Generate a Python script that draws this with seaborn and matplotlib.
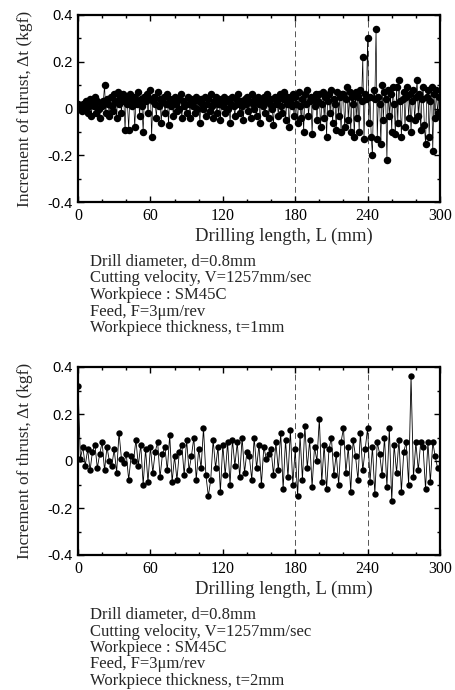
import numpy as np
import pandas as pd
import matplotlib
matplotlib.use("Agg")
import matplotlib.pyplot as plt
import seaborn as sns
from matplotlib.ticker import MultipleLocator

# ---------------- data ----------------
length_top = list(range(0, 300))
thrust_top = [
    0.02, 0.00, 0.01, -0.01, 0.02, 0.01, 0.00, 0.03, -0.02, 0.01,
    0.04, -0.03, 0.02, 0.01, 0.05, -0.02, 0.03, 0.00, -0.04, 0.02,
    0.01, 0.03, 0.10, -0.02, 0.04, 0.02, -0.03, 0.05, 0.01, -0.01,
    0.06, 0.03, -0.04, 0.07, 0.02, 0.05, -0.02, 0.06, 0.03, -0.09,
    0.05, 0.02, -0.09, 0.06, 0.04, 0.01, 0.05, -0.08, 0.03, 0.02,
    0.07, -0.03, 0.04, 0.01, -0.10, 0.05, 0.03, 0.06, -0.02, 0.04,
    0.08, -0.12, 0.03, 0.05, 0.02, -0.04, 0.07, 0.01, 0.04, -0.06,
    0.03, 0.05, -0.02, 0.02, 0.06, -0.07, 0.04, 0.01, 0.03, -0.03,
    0.05, 0.02, -0.01, 0.04, 0.00, 0.06, -0.04, 0.03, 0.01, 0.02,
    -0.02, 0.05, 0.02, -0.04, 0.04, 0.01, 0.03, -0.02, 0.05, 0.00,
    0.03, -0.06, 0.04, 0.02, 0.00, 0.05, -0.03, 0.02, 0.04, -0.01,
    0.06, 0.01, -0.04, 0.03, 0.05, -0.02, 0.02, 0.04, -0.05, 0.03,
    0.01, 0.05, -0.02, 0.03, 0.00, 0.04, -0.06, 0.02, 0.05, 0.01,
    -0.03, 0.04, 0.02, 0.06, -0.02, 0.03, 0.01, -0.05, 0.04, 0.02,
    0.05, -0.01, 0.03, -0.04, 0.06, 0.02, 0.00, 0.04, -0.03, 0.05,
    0.02, -0.06, 0.04, 0.01, 0.05, -0.02, 0.03, 0.06, -0.04, 0.02,
    0.04, 0.00, -0.07, 0.05, 0.02, 0.03, -0.03, 0.06, 0.01, -0.02,
    0.04, 0.07, -0.05, 0.02, 0.05, -0.08, 0.03, 0.01, 0.06, -0.03,
    0.05, 0.02, -0.06, 0.07, 0.01, -0.04, 0.04, -0.10, 0.06, 0.02,
    0.08, -0.03, 0.03, 0.05, -0.11, 0.04, 0.01, 0.06, -0.05, 0.03,
    0.06, -0.08, 0.02, 0.07, -0.04, 0.05, -0.12, 0.03, 0.06, -0.02,
    0.08, -0.06, 0.04, 0.02, -0.09, 0.07, -0.03, 0.05, -0.10, 0.06,
    0.06, -0.08, 0.04, 0.09, -0.05, 0.07, -0.10, 0.05, 0.02, -0.12,
    0.07, -0.04, 0.05, -0.10, 0.08, 0.03, 0.22, -0.13, 0.06, 0.04,
    0.30, -0.06, 0.05, -0.12, -0.20, 0.08, 0.04, 0.34, -0.13, 0.05,
    0.02, -0.15, 0.10, -0.05, 0.07, 0.04, -0.22, 0.08, -0.03, 0.06,
    -0.10, 0.09, 0.02, -0.11, 0.09, -0.06, 0.12, 0.03, -0.12, 0.04,
    0.07, -0.08, 0.05, 0.09, -0.04, 0.06, -0.10, 0.03, 0.08, -0.05,
    0.05, 0.12, -0.03, 0.06, -0.09, 0.04, 0.09, -0.07, -0.15, 0.05,
    0.08, -0.12, 0.03, 0.09, -0.18, 0.06, -0.04, 0.08, -0.02, 0.05,
]

length_bottom = list(range(0, 300, 2))
thrust_bottom = [
    0.32, 0.01, 0.06, -0.02, 0.05, -0.04, 0.04, 0.07, -0.03, 0.03,
    0.08, -0.04, 0.06, 0.00, -0.02, 0.05, -0.05, 0.12, 0.01, -0.01,
    0.03, -0.08, 0.02, 0.00, 0.09, -0.02, 0.07, -0.10, 0.05, -0.09,
    0.06, -0.05, 0.04, 0.08, -0.07, 0.03, 0.06, -0.04, 0.11, -0.09,
    0.02, -0.08, 0.04, 0.07, -0.06, 0.09, -0.04, 0.02, 0.10, -0.08,
    0.05, -0.03, 0.14, -0.06, -0.15, -0.08, 0.09, -0.03, 0.06, -0.13,
    0.07, -0.06, 0.08, -0.10, 0.09, -0.02, 0.08, -0.07, 0.10, -0.05,
    0.04, 0.02, -0.08, 0.10, -0.03, 0.07, -0.10, 0.06, 0.01, 0.03,
    0.05, -0.06, 0.08, -0.04, 0.12, -0.12, 0.09, -0.07, 0.13, -0.10,
    0.05, -0.15, 0.11, -0.08, 0.15, -0.03, 0.09, -0.11, 0.06, 0.00,
    0.18, -0.09, 0.07, -0.12, 0.05, 0.10, -0.06, 0.03, -0.10, 0.08,
    0.14, -0.05, 0.06, -0.13, 0.09, 0.02, -0.08, 0.12, -0.04, 0.05,
    0.14, -0.09, 0.06, -0.14, 0.08, 0.03, -0.06, 0.10, -0.11, 0.14,
    -0.17, 0.07, -0.05, 0.09, -0.13, 0.04, 0.08, -0.10, 0.36, -0.07,
    0.08, -0.04, 0.08, 0.06, -0.12, 0.08, -0.09, 0.08, 0.02, -0.03,
]

x_ticks = [0, 60, 120, 180, 240, 300]
y_ticks = [-0.4, -0.2, 0, 0.2, 0.4]
y_tick_labels = ["-0.4", "-0.2", "0", "0.2", "0.4"]
ref_lines = [180, 240]

x_label = "Drilling length, L (mm)"
y_label = "Increment of thrust, \u0394t (kgf)"
notes_top = ["Drill diameter, d=0.8mm",
             "Cutting velocity, V=1257mm/sec",
             "Workpiece : SM45C",
             "Feed, F=3\u03bcm/rev",
             "Workpiece thickness, t=1mm"]
notes_bottom = ["Drill diameter, d=0.8mm",
                "Cutting velocity, V=1257mm/sec",
                "Workpiece : SM45C",
                "Feed, F=3\u03bcm/rev",
                "Workpiece thickness, t=2mm"]

# ---------------- style ----------------
sns.set_theme(style="ticks")
plt.rcParams["font.family"] = ["Liberation Serif", "DejaVu Serif"]

W, H = 455, 690
fig = plt.figure(figsize=(W / 100, H / 100), dpi=100)
fig.patch.set_facecolor("white")

def make_panel(rect, xs, ys, ms, lw, notes, label_y, note_y0):
    ax = fig.add_axes(rect)
    df = pd.DataFrame({"L": xs, "dt": ys})
    sns.lineplot(data=df, x="L", y="dt", ax=ax, color="black", lw=lw,
                 marker="o", markersize=ms, markeredgewidth=0,
                 markerfacecolor="black")
    for xv in ref_lines:
        ax.axvline(xv, color="#555555", lw=0.7, ls=(0, (6, 4)), zorder=0)
    ax.set_xlim(0, 300)
    ax.set_ylim(-0.4, 0.4)
    ax.set_xticks(x_ticks)
    ax.set_xticklabels([str(v) for v in x_ticks], fontsize=11.5)
    ax.set_yticks(y_ticks)
    ax.set_yticklabels(y_tick_labels, fontsize=10.5,
                       family=["Liberation Sans", "DejaVu Sans"])
    ax.xaxis.set_minor_locator(MultipleLocator(20))
    ax.yaxis.set_minor_locator(MultipleLocator(0.1))
    ax.tick_params(which="both", direction="in", top=True, right=True,
                   width=1.0, colors="black")
    ax.tick_params(which="major", length=4, pad=4)
    ax.tick_params(which="minor", length=2)
    for s in ax.spines.values():
        s.set_linewidth(1.6)
        s.set_color("black")
    ax.set_xlabel("")
    ax.set_ylabel(y_label, fontsize=12.5, labelpad=10)
    ax.set_facecolor("white")
    fig.text((rect[0] + rect[2] / 2 + 0.055), 1 - label_y / H, x_label,
             ha="center", va="center", fontsize=13.5)
    for i, t in enumerate(notes):
        fig.text(90 / W, 1 - (note_y0 + i * 16.5) / H, t,
                 ha="left", va="center", fontsize=12)
    return ax

ax1 = make_panel([78 / W, 1 - 202 / H, 362 / W, 187 / H],
                 length_top, thrust_top, 5.4, 0.5, notes_top, 236, 262)
ax2 = make_panel([78 / W, 1 - 555 / H, 362 / W, 188 / H],
                 length_bottom, thrust_bottom, 4.6, 0.6, notes_bottom, 589, 615)

fig.savefig("out.png", dpi=100, facecolor="white")
